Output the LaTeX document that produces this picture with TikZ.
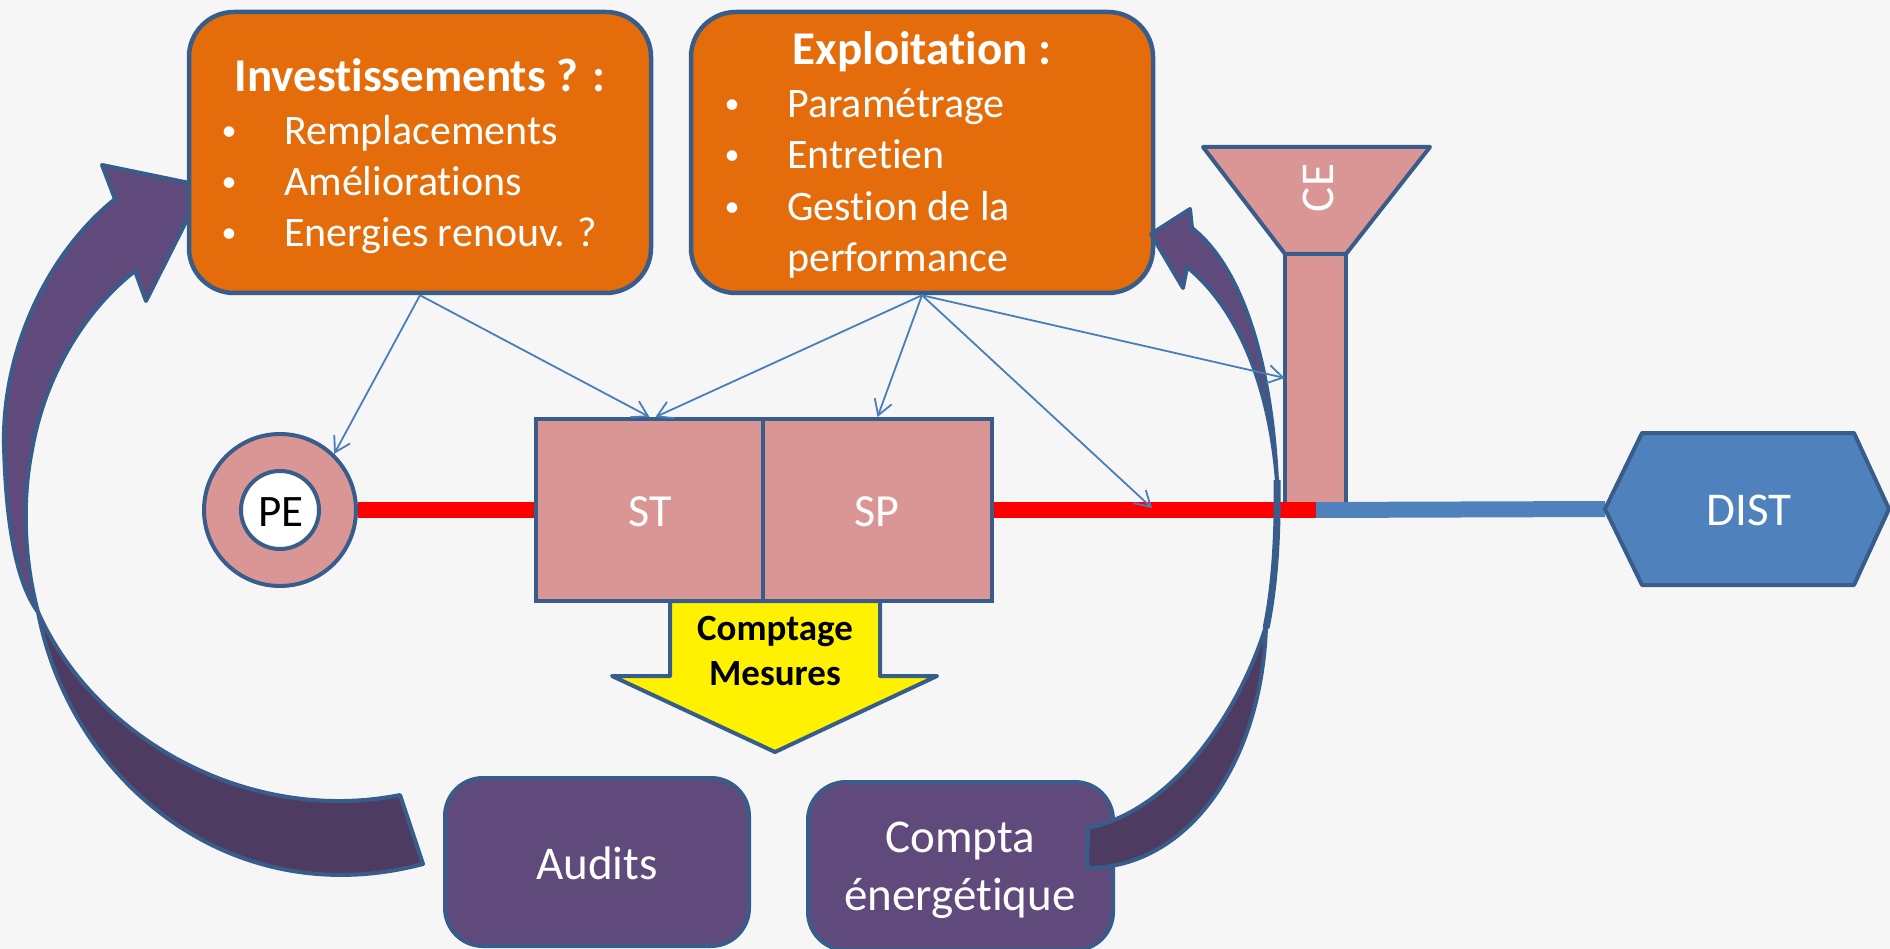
\documentclass[tikz,border=0pt]{standalone}
\usepackage{fontspec}
\setmainfont{Carlito}[Ligatures=NoCommon]
\usetikzlibrary{arrows.meta}
\definecolor{bgc}{HTML}{F6F6F6}
\definecolor{bord}{HTML}{385D8A}
\definecolor{orng}{HTML}{E46C0A}
\definecolor{pnk}{HTML}{D99694}
\definecolor{purp}{HTML}{604A7B}
\definecolor{purpd}{HTML}{4D3B62}
\definecolor{bleu}{HTML}{4F81BD}
\definecolor{thinc}{HTML}{4A7EBB}
\pgfdeclarelayer{back}
\pgfsetlayers{back,main}
\begin{document}
\begin{tikzpicture}[x=1pt,y=-1pt,
  obox/.style={draw=bord,line width=4.5pt,fill=orng,rounded corners=45pt,inner sep=0pt},
  pbox/.style={draw=bord,line width=4pt,fill=purp,rounded corners=38pt,inner sep=0pt},
  pinkbox/.style={draw=bord,line width=4pt,fill=pnk,inner sep=0pt},
  arrowA/.style={draw=bord,line width=4pt,fill=purp,line join=round},
  arrowB/.style={draw=bord,line width=4pt,fill=purpd,line join=round},
  wtxt/.style={inner sep=0pt,text=white,font=\fontsize{42}{50}\selectfont},
  ttl/.style={inner sep=0pt,text=white,font=\bfseries\fontsize{47}{56}\selectfont,anchor=base},
  btxt/.style={wtxt,anchor=base west},
  bul/.style={inner sep=0pt,text=white,font=\fontsize{30}{36}\selectfont,anchor=base},
  big/.style={inner sep=0pt,text=white,font=\fontsize{47}{56}\selectfont,anchor=base},
  thinarr/.style={draw=thinc,line width=1.8pt,-{Straight Barb[length=15pt,width=18pt]}},
  redline/.style={draw=red,line width=16pt},
  blueline/.style={draw=bleu,line width=16pt}
]
\useasboundingbox (0,0) rectangle (1890,949);
\begin{pgfonlayer}{back}
\fill[bgc] (0,0) rectangle (1890,949);
\end{pgfonlayer}

% left curved arrow
\filldraw[arrowA] (115,199) -- (102,165) -- (204,186) -- (146,301) -- (135,271)
 .. controls (85,310) and (45,375) .. (32,450)
 .. controls (22,500) and (24,560) .. (38,612)
 .. controls (18,585) and (6,530) .. (4,445)
 .. controls (2,360) and (40,260) .. (115,199)
 -- cycle;
\filldraw[arrowB] (38,612) .. controls (70,780) and (230,915) .. (423,864)
 -- (400,795) .. controls (250,825) and (95,740) .. (38,612) -- cycle;

% orange boxes
\node[obox,minimum width=462pt,minimum height=281pt] (inv) at (420,152.5) {};
\node[obox,minimum width=462pt,minimum height=281pt] (expl) at (922,152.5) {};

% yellow arrow (back)
\begin{pgfonlayer}{back}
\filldraw[draw=bord,line width=4pt,fill=yellow,line join=round] (670,601) -- (670,676) -- (612,676) -- (775,752) -- (937,676) -- (880,676) -- (880,601) -- cycle;
\end{pgfonlayer}

% PE
\node[circle,draw=bord,line width=4pt,fill=pnk,minimum size=152pt,inner sep=0pt] (pe) at (280,510) {};
\node[circle,draw=bord,line width=4pt,fill=white,minimum size=78pt,inner sep=0pt] (pein) at (280,510) {};
% ST SP
\node[pinkbox,minimum width=227pt,minimum height=182pt] (st) at (649.5,510) {};
\node[pinkbox,minimum width=229pt,minimum height=182pt] (sp) at (877.5,510) {};
% CE funnel
\node[fill=pnk,draw=none,minimum width=61pt,minimum height=248pt,inner sep=0pt] (stem) at (1315.5,378) {};
\draw[bord,line width=4pt] (stem.south west) -- (stem.north west) -- (stem.north east) -- (stem.south east);
\filldraw[draw=bord,line width=4pt,fill=pnk,line join=round] (1203,147) -- (1430,147) -- (1346,254) -- (1285,254) -- cycle;
% DIST
\filldraw[draw=bord,line width=4pt,fill=bleu,line join=round] (1605,509) -- (1642,433) -- (1854,433) -- (1889,509) -- (1854,585) -- (1642,585) -- cycle;
\coordinate (distw) at (1605,509);
\coordinate (junc) at (1316,510);
\coordinate (redpt) at (1152,508);

% lines (back)
\begin{pgfonlayer}{back}
\draw[redline] (pe.east) -- (st.west);
\draw[redline] (sp.east) -- (junc);
\draw[blueline] (junc) -- (distw);
\end{pgfonlayer}

% purple boxes
\node[pbox,minimum width=304pt,minimum height=168pt] (aud) at (597,862) {};
\node[pbox,minimum width=305pt,minimum height=168pt] (cpt) at (960.5,866) {};

% right curved arrow
\filldraw[arrowA] (1192,228) -- (1190,209) -- (1151,234) -- (1183,288) -- (1187,267)
 .. controls (1240,310) and (1270,390) .. (1277,482)
 .. controls (1272,370) and (1245,270) .. (1192,228)
 -- cycle;
\draw[bord,line width=7pt] (1277,480) .. controls (1278,540) and (1274,590) .. (1266,628);
\filldraw[arrowB] (1266,626) .. controls (1262,760) and (1190,868) .. (1087,868)
 -- (1088,828) .. controls (1175,810) and (1240,710) .. (1266,626) -- cycle;

% thin arrows
\draw[thinarr] (inv.south) -- (pe.46);
\draw[thinarr] (inv.south) -- (st.north);
\draw[thinarr] (expl.south) -- ([xshift=6pt]st.north);
\draw[thinarr] (expl.south) -- (sp.north);
\draw[thinarr] (expl.south) -- (redpt);
\draw[thinarr] (expl.south) -- (stem.west);

% texts
\node[ttl] (invt) at (420,92) {Investissements ? :};
\node[bul] (ib1) at (229,141) {\textbullet};
\node[bul] (ib2) at (229,192) {\textbullet};
\node[bul] (ib3) at (229,243) {\textbullet};
\node[btxt] (it1) at (284,145) {Remplacements};
\node[btxt] (it2) at (284,196) {Améliorations};
\node[btxt] (it3) at (284,247) {Energies renouv. ?};

\node[ttl] (explt) at (922,65) {Exploitation :};
\node[bul] (eb1) at (732,114) {\textbullet};
\node[bul] (eb2) at (732,165) {\textbullet};
\node[bul] (eb3) at (732,217) {\textbullet};
\node[btxt] (et1) at (787,118) {Paramétrage};
\node[btxt] (et2) at (787,169) {Entretien};
\node[btxt] (et3) at (787,221) {Gestion de la};
\node[btxt] (et4) at (787,272) {performance};

\node[inner sep=0pt,font=\fontsize{45}{54}\selectfont,anchor=base] (pet) at (281,526) {PE};
\node[big,font=\fontsize{46}{55}\selectfont] (stt) at (650,526) {ST};
\node[big,font=\fontsize{46}{55}\selectfont] (spt) at (877,526) {SP};
\node[inner sep=0pt,text=white,font=\fontsize{47}{56}\selectfont,rotate=90] (ce) at (1318,188) {CE};
\node[big] (dist) at (1749,525) {DIST};
\node[inner sep=0pt,font=\bfseries\fontsize{37}{44}\selectfont,anchor=base] (cm1) at (775,640) {Comptage};
\node[inner sep=0pt,font=\bfseries\fontsize{37}{44}\selectfont,anchor=base] (cm2) at (775,685) {Mesures};
\node[big] (audt) at (597,879) {Audits};
\node[big] (cpt1) at (960,852) {Compta};
\node[big] (cpt2) at (960,910) {énergétique};
\end{tikzpicture}
\end{document}
